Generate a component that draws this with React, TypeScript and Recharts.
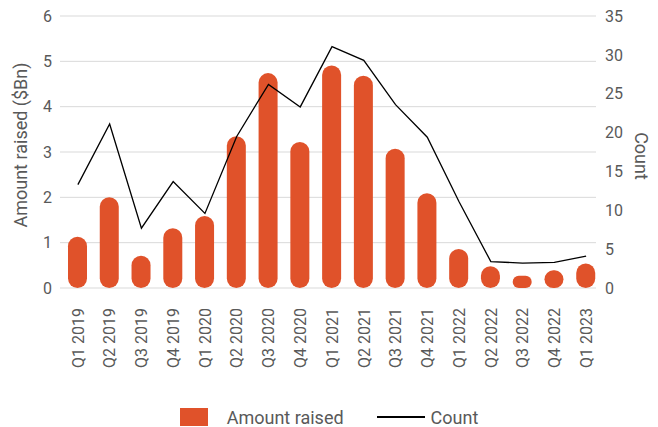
import React from 'react';
import { ComposedChart, Bar, Line, XAxis, YAxis, CartesianGrid, Legend } from 'recharts';

const quarters = ['Q1 2019','Q2 2019','Q3 2019','Q4 2019','Q1 2020','Q2 2020','Q3 2020','Q4 2020','Q1 2021','Q2 2021','Q3 2021','Q4 2021','Q1 2022','Q2 2022','Q3 2022','Q4 2022','Q1 2023'];
const amountRaised = [1.13, 2.0, 0.71, 1.32, 1.59, 3.35, 4.74, 3.22, 4.91, 4.68, 3.07, 2.09, 0.86, 0.48, 0.27, 0.39, 0.54];
const counts = [13.3, 21.1, 7.7, 13.7, 9.6, 19.5, 26.2, 23.3, 31.05, 29.3, 23.6, 19.4, 11.1, 3.4, 3.2, 3.3, 4.1];
const leftTicks = [0, 1, 2, 3, 4, 5, 6];
const rightTicks = [0, 5, 10, 15, 20, 25, 30, 35];

const data = quarters.map((q, i) => ({ quarter: q, amount: amountRaised[i], count: counts[i] }));

const BAR_COLOR = '#E0522A';
const TEXT_COLOR = '#595959';
const FONT = 'Roboto, "Noto Sans", sans-serif';

const PillBar = (props: any) => {
  const { x, y, width, height } = props;
  if (!height || height <= 0) return null;
  const r = Math.min(width / 2, height / 2);
  return <rect x={x} y={y} width={width} height={height} rx={r} ry={r} fill={BAR_COLOR} />;
};

const XTick = (props: any) => {
  const { x, y, payload } = props;
  const ty = y + 20;
  return (
    <text x={x} y={ty} transform={`rotate(-90, ${x}, ${ty})`} textAnchor="end" dy="0.36em" fill={TEXT_COLOR} fontSize={16} fontFamily={FONT}>
      {payload.value}
    </text>
  );
};

const LeftLabel = (props: any) => {
  const { viewBox } = props;
  const cx = viewBox.x + 20.5;
  const cy = viewBox.y + viewBox.height / 2 - 7;
  return (
    <text x={cx} y={cy} transform={`rotate(-90, ${cx}, ${cy})`} textAnchor="middle" dy="0.36em" fill={TEXT_COLOR} fontSize={18} fontFamily={FONT}>
      Amount raised ($Bn)
    </text>
  );
};

const RightLabel = (props: any) => {
  const { viewBox } = props;
  const cx = viewBox.x + 45.5;
  const cy = viewBox.y + viewBox.height / 2 + 4;
  return (
    <text x={cx} y={cy} transform={`rotate(90, ${cx}, ${cy})`} textAnchor="middle" dy="0.36em" fill={TEXT_COLOR} fontSize={18} fontFamily={FONT}>
      Count
    </text>
  );
};

const LegendContent = () => (
  <div style={{ display: 'flex', justifyContent: 'center', alignItems: 'center', height: 28, fontFamily: FONT, fontSize: 18, color: TEXT_COLOR }}>
    <span style={{ display: 'inline-block', width: 28, height: 18, background: BAR_COLOR, marginRight: 19 }} />
    <span style={{ marginRight: 33 }}>Amount raised</span>
    <span style={{ display: 'inline-block', width: 48, height: 2, background: '#000', marginRight: 6 }} />
    <span>Count</span>
  </div>
);

export default function App() {
  return (
    <div style={{ position: 'absolute', left: 0, top: 0, width: 658, height: 427, background: '#fff' }}>
      <ComposedChart width={658} height={427} data={data} margin={{ top: 16, right: 0, bottom: 0, left: 0 }}>
        <CartesianGrid vertical={false} stroke="#D9D9D9" strokeWidth={1} yAxisId="left" />
        <XAxis
          dataKey="quarter"
          interval={0}
          tick={<XTick />}
          tickLine={false}
          axisLine={false}
          tickSize={0}
          tickMargin={0}
          height={111}
          padding={{ left: 2, right: -6 }}
        />
        <YAxis
          yAxisId="left"
          orientation="left"
          domain={[0, 6]}
          ticks={leftTicks}
          width={60}
          tickLine={false}
          axisLine={false}
          tickSize={0}
          tickMargin={8}
          tick={{ fill: TEXT_COLOR, fontSize: 16, fontFamily: FONT }}
          label={<LeftLabel />}
        />
        <YAxis
          yAxisId="right"
          orientation="right"
          domain={[0, 35]}
          ticks={rightTicks}
          width={62}
          tickLine={false}
          axisLine={false}
          tickSize={0}
          tickMargin={9}
          tick={{ fill: TEXT_COLOR, fontSize: 16, fontFamily: FONT }}
          label={<RightLabel />}
        />
        <Legend verticalAlign="bottom" content={<LegendContent />} wrapperStyle={{ top: 403, height: 28 }} />
        <Bar yAxisId="left" dataKey="amount" name="Amount raised" barSize={19} shape={<PillBar />} isAnimationActive={false} />
        <Line yAxisId="right" dataKey="count" name="Count" stroke="#000" strokeWidth={1.3} dot={false} activeDot={false} type="linear" isAnimationActive={false} />
      </ComposedChart>
    </div>
  );
}
